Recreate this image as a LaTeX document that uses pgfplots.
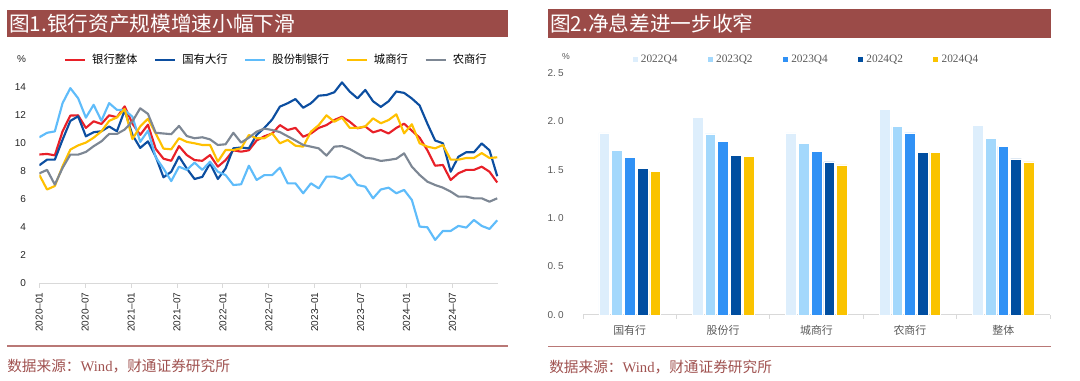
\documentclass[border=0pt]{standalone}
\usepackage{fontspec}
\setmainfont{Liberation Sans}
\newfontfamily\cjk{Noto Sans CJK SC}
\newfontfamily\serifnum{Liberation Serif}
\usepackage{pgfplots}
\usepackage{pgfplotstable}
\pgfplotsset{compat=1.18}

\definecolor{titlered}{RGB}{155,75,72}
\definecolor{srcred}{RGB}{160,82,80}
\definecolor{rulered}{RGB}{185,120,118}
\definecolor{cTotal}{RGB}{232,32,40}
\definecolor{cBig}{RGB}{12,78,160}
\definecolor{cJoint}{RGB}{95,188,250}
\definecolor{cCity}{RGB}{255,192,0}
\definecolor{cRural}{RGB}{125,135,148}
\definecolor{qa}{RGB}{221,238,252}
\definecolor{qb}{RGB}{163,216,252}
\definecolor{qc}{RGB}{48,145,245}
\definecolor{qd}{RGB}{0,78,160}
\definecolor{qe}{RGB}{250,195,0}
\definecolor{axgray}{RGB}{217,217,217}
\definecolor{txtgray}{RGB}{89,89,89}

% monthly growth, 2020-01 ... 2024-12 (k = month index)
\pgfplotstableread{
k total big joint city rural
0 9.2 8.43 10.43 7.75 7.85
1 9.24 8.83 10.75 6.7 8.1
2 9.14 8.83 10.85 6.95 7.05
3 10.86 10.26 12.87 8.36 8.24
4 11.98 11.6 13.94 9.55 9.19
5 12.0 11.93 13.22 9.85 9.19
6 11.1 10.5 11.83 10.05 9.38
7 11.57 10.79 12.75 10.4 9.79
8 11.38 10.86 11.61 10.85 10.14
9 12.0 11.2 12.87 11.6 10.67
10 11.86 10.86 12.39 11.85 10.67
11 12.64 12.35 12.37 12.45 10.98
12 11.4 10.6 11.9 10.3 11.57
13 10.6 9.67 10.1 11.2 12.5
14 11.33 10.14 10.9 11.75 12.1
15 9.6 9.05 9.0 10.7 10.75
16 8.9 7.57 8.2 9.62 10.7
17 8.75 7.97 7.3 9.57 10.65
18 9.8 9.05 8.33 10.36 11.24
19 9.16 8.2 8.1 10.1 10.52
20 8.8 7.45 8.62 10.0 10.36
21 8.75 7.6 8.1 9.88 10.43
22 9.16 8.57 8.69 9.88 10.28
23 8.33 7.45 7.97 8.69 9.88
24 8.8 8.2 7.73 9.52 9.93
25 9.5 9.64 7.02 9.52 10.75
26 9.4 9.7 7.07 9.64 10.05
27 9.5 9.64 8.4 10.59 10.4
28 10.2 10.6 7.38 10.36 10.83
29 10.5 11.1 7.73 10.36 11.05
30 10.7 11.7 7.73 10.71 10.95
31 11.3 12.62 8.26 10.0 10.8
32 10.95 12.86 7.14 10.24 10.5
33 11.1 13.16 7.14 9.83 10.2
34 10.47 12.54 6.43 9.76 9.88
35 10.7 12.86 7.14 10.83 9.76
36 11.1 13.4 6.78 11.3 9.64
37 11.3 13.45 7.62 12.0 9.12
38 11.66 13.64 7.62 11.54 9.76
39 11.9 14.35 7.45 11.83 9.8
40 11.54 13.69 7.78 11.1 9.59
41 11.07 13.21 7.02 11.1 9.28
42 11.2 13.81 6.9 11.2 8.97
43 10.78 13.0 6.07 11.78 8.9
44 10.95 12.6 6.7 11.43 8.74
45 10.7 13.0 6.83 11.66 8.81
46 11.1 13.7 6.43 12.07 8.9
47 11.4 13.6 6.67 10.71 9.28
48 10.9 13.2 5.95 11.36 8.33
49 10.4 12.7 4.05 10.0 7.74
50 9.5 11.4 4.0 9.76 7.26
51 8.4 10.2 3.1 9.64 7.02
52 8.45 10.0 3.74 9.88 6.83
53 7.38 7.97 3.74 8.83 6.55
54 7.86 9.04 4.1 8.83 6.19
55 8.1 9.36 3.98 8.95 6.19
56 8.1 9.36 4.52 8.95 6.07
57 8.33 9.99 4.1 9.3 6.07
58 7.97 9.5 3.88 8.95 5.83
59 7.2 7.65 4.5 9.0 6.07
}\growth

% net interest margin (%)
\pgfplotstableread{
idx qa qb qc qd qe
0 1.88 1.70 1.63 1.51 1.485
1 2.04 1.87 1.79 1.65 1.64
2 1.88 1.77 1.69 1.58 1.55
3 2.12 1.945 1.88 1.68 1.68
4 1.96 1.82 1.74 1.61 1.58
}\nim

\begin{document}
\begin{tikzpicture}[x=0.75pt,y=0.75pt]
% ---- panel decorations ----
\fill[titlered] (7,344) rectangle (508,371);
\fill[titlered] (548,343) rectangle (1051,372);
\node[anchor=west, inner sep=0pt, text=white, font=\cjk\fontsize{15.5pt}{18pt}\selectfont] at (9,357.5) {图1.银行资产规模增速小幅下滑};
\node[anchor=west, inner sep=0pt, text=white, font=\cjk\fontsize{15.5pt}{18pt}\selectfont] at (550,357.5) {图2.净息差进一步收窄};
\draw[rulered, line width=1.1pt] (7,35) -- (508,35);
\draw[rulered, line width=1.1pt] (548,34.3) -- (1051,34.3);
\node[anchor=west, inner sep=0pt, text=srcred, font=\cjk\fontsize{11pt}{13pt}\selectfont] at (7,15) {数据来源：{\serifnum Wind}，财通证券研究所};
\node[anchor=west, inner sep=0pt, text=srcred, font=\cjk\fontsize{11pt}{13pt}\selectfont] at (549,14.3) {数据来源：{\serifnum Wind}，财通证券研究所};
\node[anchor=center, inner sep=0pt, text=txtgray, font=\fontsize{6.5pt}{8pt}\selectfont] at (566,324) {\%};

% ---- left: asset growth ----
\begin{axis}[
  at={(29.475pt,73.275pt)}, anchor=south west,
  scale only axis, width=344.25pt, height=168pt,
  xmin=0, xmax=59.1376, ymin=0, ymax=16,
  axis lines*=left,
  x axis line style={draw=axgray, line width=0.75pt},
  y axis line style={draw=none},
  xtick={0,5.91376,11.82752,17.74128,23.65504,29.5688,35.48256,41.39632,47.31008,53.22384},
  xticklabels={2020–01,2020–07,2021–01,2021–07,2022–01,2022–07,2023–01,2023–07,2024–01,2024–07},
  ytick={0,2,4,6,8,10,12,14,16},
  yticklabels={0,2,4,6,8,10,12,14,\%},
  tick align=outside,
  major tick length=3.5pt,
  xtick style={draw=axgray, line width=0.75pt},
  ytick style={draw=none},
  xticklabel style={rotate=90, anchor=east, font=\fontsize{7.5pt}{9pt}\selectfont, text=black!85},
  yticklabel style={font=\fontsize{7.5pt}{9pt}\selectfont, text=black!85, xshift=-3pt},
  legend columns=5,
  legend style={at={(0.054,0.997)}, anchor=west, draw=none, fill=none, inner sep=0pt, outer sep=0pt,
    font=\cjk\fontsize{8.5pt}{10pt}\selectfont, nodes={inner sep=1.5pt},
    /tikz/every odd column/.append style={column sep=3pt},
    /tikz/every even column/.append style={column sep=11pt}},
  legend image code/.code={\draw[#1, line width=1.6pt] (0pt,0pt) -- (15pt,0pt);},
  every axis plot/.append style={line width=1.6pt, mark=none, line join=round},
]
\addplot[cTotal] table[x=k, y=total] {\growth};
\addlegendentry{银行整体}
\addplot[cBig] table[x=k, y=big] {\growth};
\addlegendentry{国有大行}
\addplot[cJoint] table[x=k, y=joint] {\growth};
\addlegendentry{股份制银行}
\addplot[cCity] table[x=k, y=city] {\growth};
\addlegendentry{城商行}
\addplot[cRural] table[x=k, y=rural] {\growth};
\addlegendentry{农商行}
\end{axis}

% ---- right: NIM ----
\begin{axis}[
  at={(437.25pt,49.5pt)}, anchor=south west,
  scale only axis, width=350.25pt, height=181.7pt,
  xmin=-0.5, xmax=4.5, ymin=0, ymax=2.5,
  enlargelimits=false,
  ybar, bar width=0.1146,
  axis lines*=left,
  x axis line style={draw=axgray, line width=0.75pt},
  y axis line style={draw=none},
  xtick={-0.5,0.5,1.5,2.5,3.5,4.5},
  xticklabels={,,,,,},
  extra x ticks={0,1,2,3,4},
  extra x tick labels={国有行,股份行,城商行,农商行,整体},
  extra x tick style={major tick length=0pt, tick style={draw=none},
     xticklabel style={font=\cjk\fontsize{8.2pt}{10pt}\selectfont, text=txtgray, yshift=-4pt}},
  ytick={0,0.5,1,1.5,2,2.5},
  yticklabels={{0.\hspace{1.6pt}0},{0.\hspace{1.6pt}5},{1.\hspace{1.6pt}0},{1.\hspace{1.6pt}5},{2.\hspace{1.6pt}0},{2.\hspace{1.6pt}5}},
  tick align=outside,
  major tick length=3pt,
  xtick style={draw=axgray, line width=0.75pt},
  ytick style={draw=none},
  yticklabel style={font=\fontsize{7.5pt}{9pt}\selectfont, text=txtgray, xshift=-8pt},
  legend columns=5,
  legend style={at={(0.104,1.054)}, anchor=west, draw=none, fill=none, inner sep=0pt, outer sep=0pt,
    font=\serifnum\fontsize{8.5pt}{10pt}\selectfont, text=txtgray, nodes={inner sep=1pt},
    /tikz/every odd column/.append style={column sep=1pt},
    /tikz/every even column/.append style={column sep=21pt}},
  legend image code/.code={\fill[#1] (0pt,-2.3pt) rectangle (4.6pt,2.3pt);},
]
\addplot[fill=qa, draw=white, line width=0.4pt, bar shift=-0.2721] table[x=idx, y=qa] {\nim};
\addlegendentry{2022Q4}
\addplot[fill=qb, draw=white, line width=0.4pt, bar shift=-0.1361] table[x=idx, y=qb] {\nim};
\addlegendentry{2023Q2}
\addplot[fill=qc, draw=white, line width=0.4pt, bar shift=0] table[x=idx, y=qc] {\nim};
\addlegendentry{2023Q4}
\addplot[fill=qd, draw=white, line width=0.4pt, bar shift=0.1361] table[x=idx, y=qd] {\nim};
\addlegendentry{2024Q2}
\addplot[fill=qe, draw=white, line width=0.4pt, bar shift=0.2721] table[x=idx, y=qe] {\nim};
\addlegendentry{2024Q4}
\end{axis}
\pgfresetboundingbox
\useasboundingbox (0,0) rectangle (1080,381);
\end{tikzpicture}
\end{document}
